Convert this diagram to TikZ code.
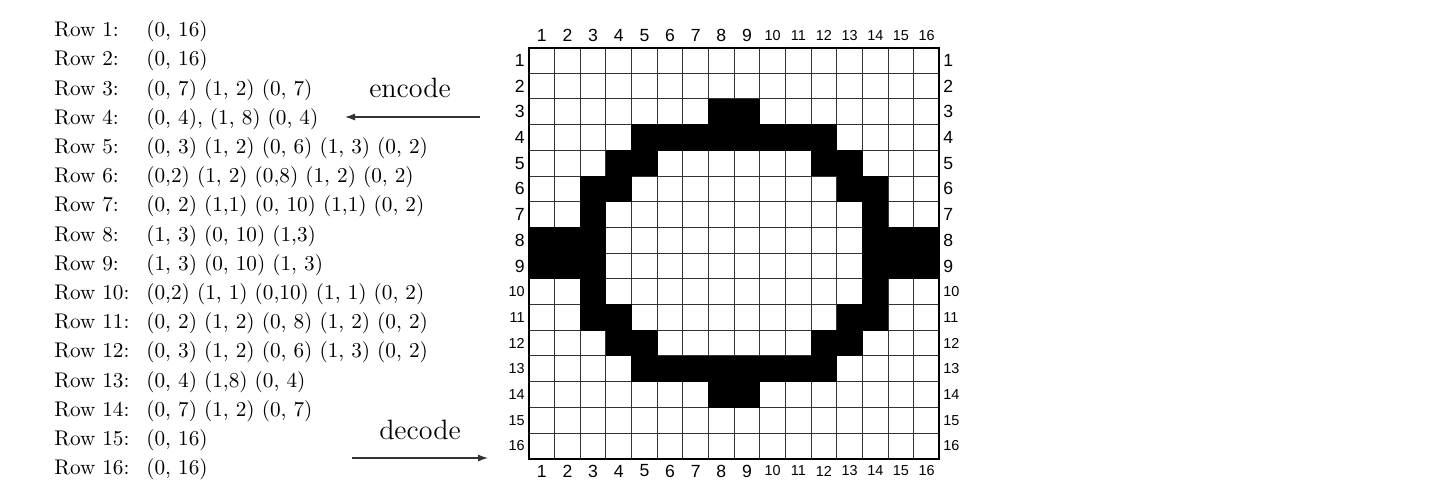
\documentclass[tikz,border=0pt]{standalone}
\usepackage{fontspec}
\newfontfamily\numfont{Liberation Sans}
\usetikzlibrary{arrows.meta}
\begin{document}
\begin{tikzpicture}[x=0.5pt,y=-0.5pt,
  rowtext/.style={anchor=base west, inner sep=0pt, font=\fontsize{10.6}{12}\selectfont},
  gnum/.style={inner sep=0pt, font=\numfont\fontsize{8.8}{10}\selectfont},
  gnumsm/.style={inner sep=0pt, font=\numfont\fontsize{7.2}{9}\selectfont},
  gridline/.style={line width=0.5pt, draw=black!80},
  gridframe/.style={line width=1pt, draw=black},
  arrowline/.style={line width=0.6pt, draw=black!80, -{Latex[length=5pt,width=3.5pt]}},
  arrowlabel/.style={inner sep=0pt, font=\fontsize{14}{16}\selectfont}]
\useasboundingbox (0,0) rectangle (1436,498);
\def\cw{25.65}
\def\ch{25.7}
\def\gx{529}
\def\gy{47.5}
% grid lines
\foreach \i in {1,...,15} {
  \draw[gridline] ({\gx+\i*\cw},\gy) -- ({\gx+\i*\cw},{\gy+16*\ch});
  \draw[gridline] (\gx,{\gy+\i*\ch}) -- ({\gx+16*\cw},{\gy+\i*\ch});
}
% black cells
\foreach \r/\a/\b in {3/8/9, 4/5/12, 5/4/5, 5/12/13, 6/3/4, 6/13/14, 7/3/3, 7/14/14,
  8/1/3, 8/14/16, 9/1/3, 9/14/16, 10/3/3, 10/14/14, 11/3/4, 11/13/14,
  12/4/5, 12/12/13, 13/5/12, 14/8/9}
  \fill[black] ({\gx+(\a-1)*\cw-0.3},{\gy+(\r-1)*\ch-0.3}) rectangle ({\gx+\b*\cw+0.3},{\gy+\r*\ch+0.3});
\draw[gridframe] (\gx,\gy) rectangle ({\gx+16*\cw},{\gy+16*\ch});
% grid numbers
\foreach \i in {1,...,9} {
  \node[gnum] (top\i) at ({\gx+(\i-0.5)*\cw},35.5) {\i};
  \node[gnum] (bot\i) at ({\gx+(\i-0.5)*\cw},471) {\i};
  \node[gnum,anchor=east] (lft\i) at (525,{\gy+(\i-0.5)*\ch}) {\i};
  \node[gnum,anchor=west] (rgt\i) at (943,{\gy+(\i-0.5)*\ch}) {\i};
}
\foreach \i in {10,...,16} {
  \node[gnumsm] (top\i) at ({\gx+(\i-0.5)*\cw},35.5) {\i};
  \node[gnumsm] (bot\i) at ({\gx+(\i-0.5)*\cw},471) {\i};
  \node[gnumsm,anchor=east] (lft\i) at (525,{\gy+(\i-0.5)*\ch}) {\i};
  \node[gnumsm,anchor=west] (rgt\i) at (943,{\gy+(\i-0.5)*\ch}) {\i};
}
% row codes
\foreach \n/\t [count=\k from 0] in {
  1/{(0, 16)},
  2/{(0, 16)},
  3/{(0, 7) (1, 2) (0, 7)},
  4/{(0, 4), (1, 8) (0, 4)},
  5/{(0, 3) (1, 2) (0, 6) (1, 3) (0, 2)},
  6/{(0,2) (1, 2) (0,8) (1, 2) (0, 2)},
  7/{(0, 2) (1,1) (0, 10) (1,1) (0, 2)},
  8/{(1, 3) (0, 10) (1,3)},
  9/{(1, 3) (0, 10) (1, 3)},
  10/{(0,2) (1, 1) (0,10) (1, 1) (0, 2)},
  11/{(0, 2) (1, 2) (0, 8) (1, 2) (0, 2)},
  12/{(0, 3) (1, 2) (0, 6) (1, 3) (0, 2)},
  13/{(0, 4) (1,8) (0, 4)},
  14/{(0, 7) (1, 2) (0, 7)},
  15/{(0, 16)},
  16/{(0, 16)}}
  \node[rowtext] (row\n) at (54,{36.7+\k*29.2}) {\makebox[46pt][l]{Row \n:}\t};
% encode / decode
\coordinate (encS) at (480,117);
\coordinate (encE) at (345,117);
\draw[arrowline] (encS) -- (encE);
\node[arrowlabel] (enc) at (410,88) {encode};
\coordinate (decS) at (352,458);
\coordinate (decE) at (488,458);
\draw[arrowline] (decS) -- (decE);
\node[arrowlabel] (dec) at (420,430) {decode};
\end{tikzpicture}
\end{document}
